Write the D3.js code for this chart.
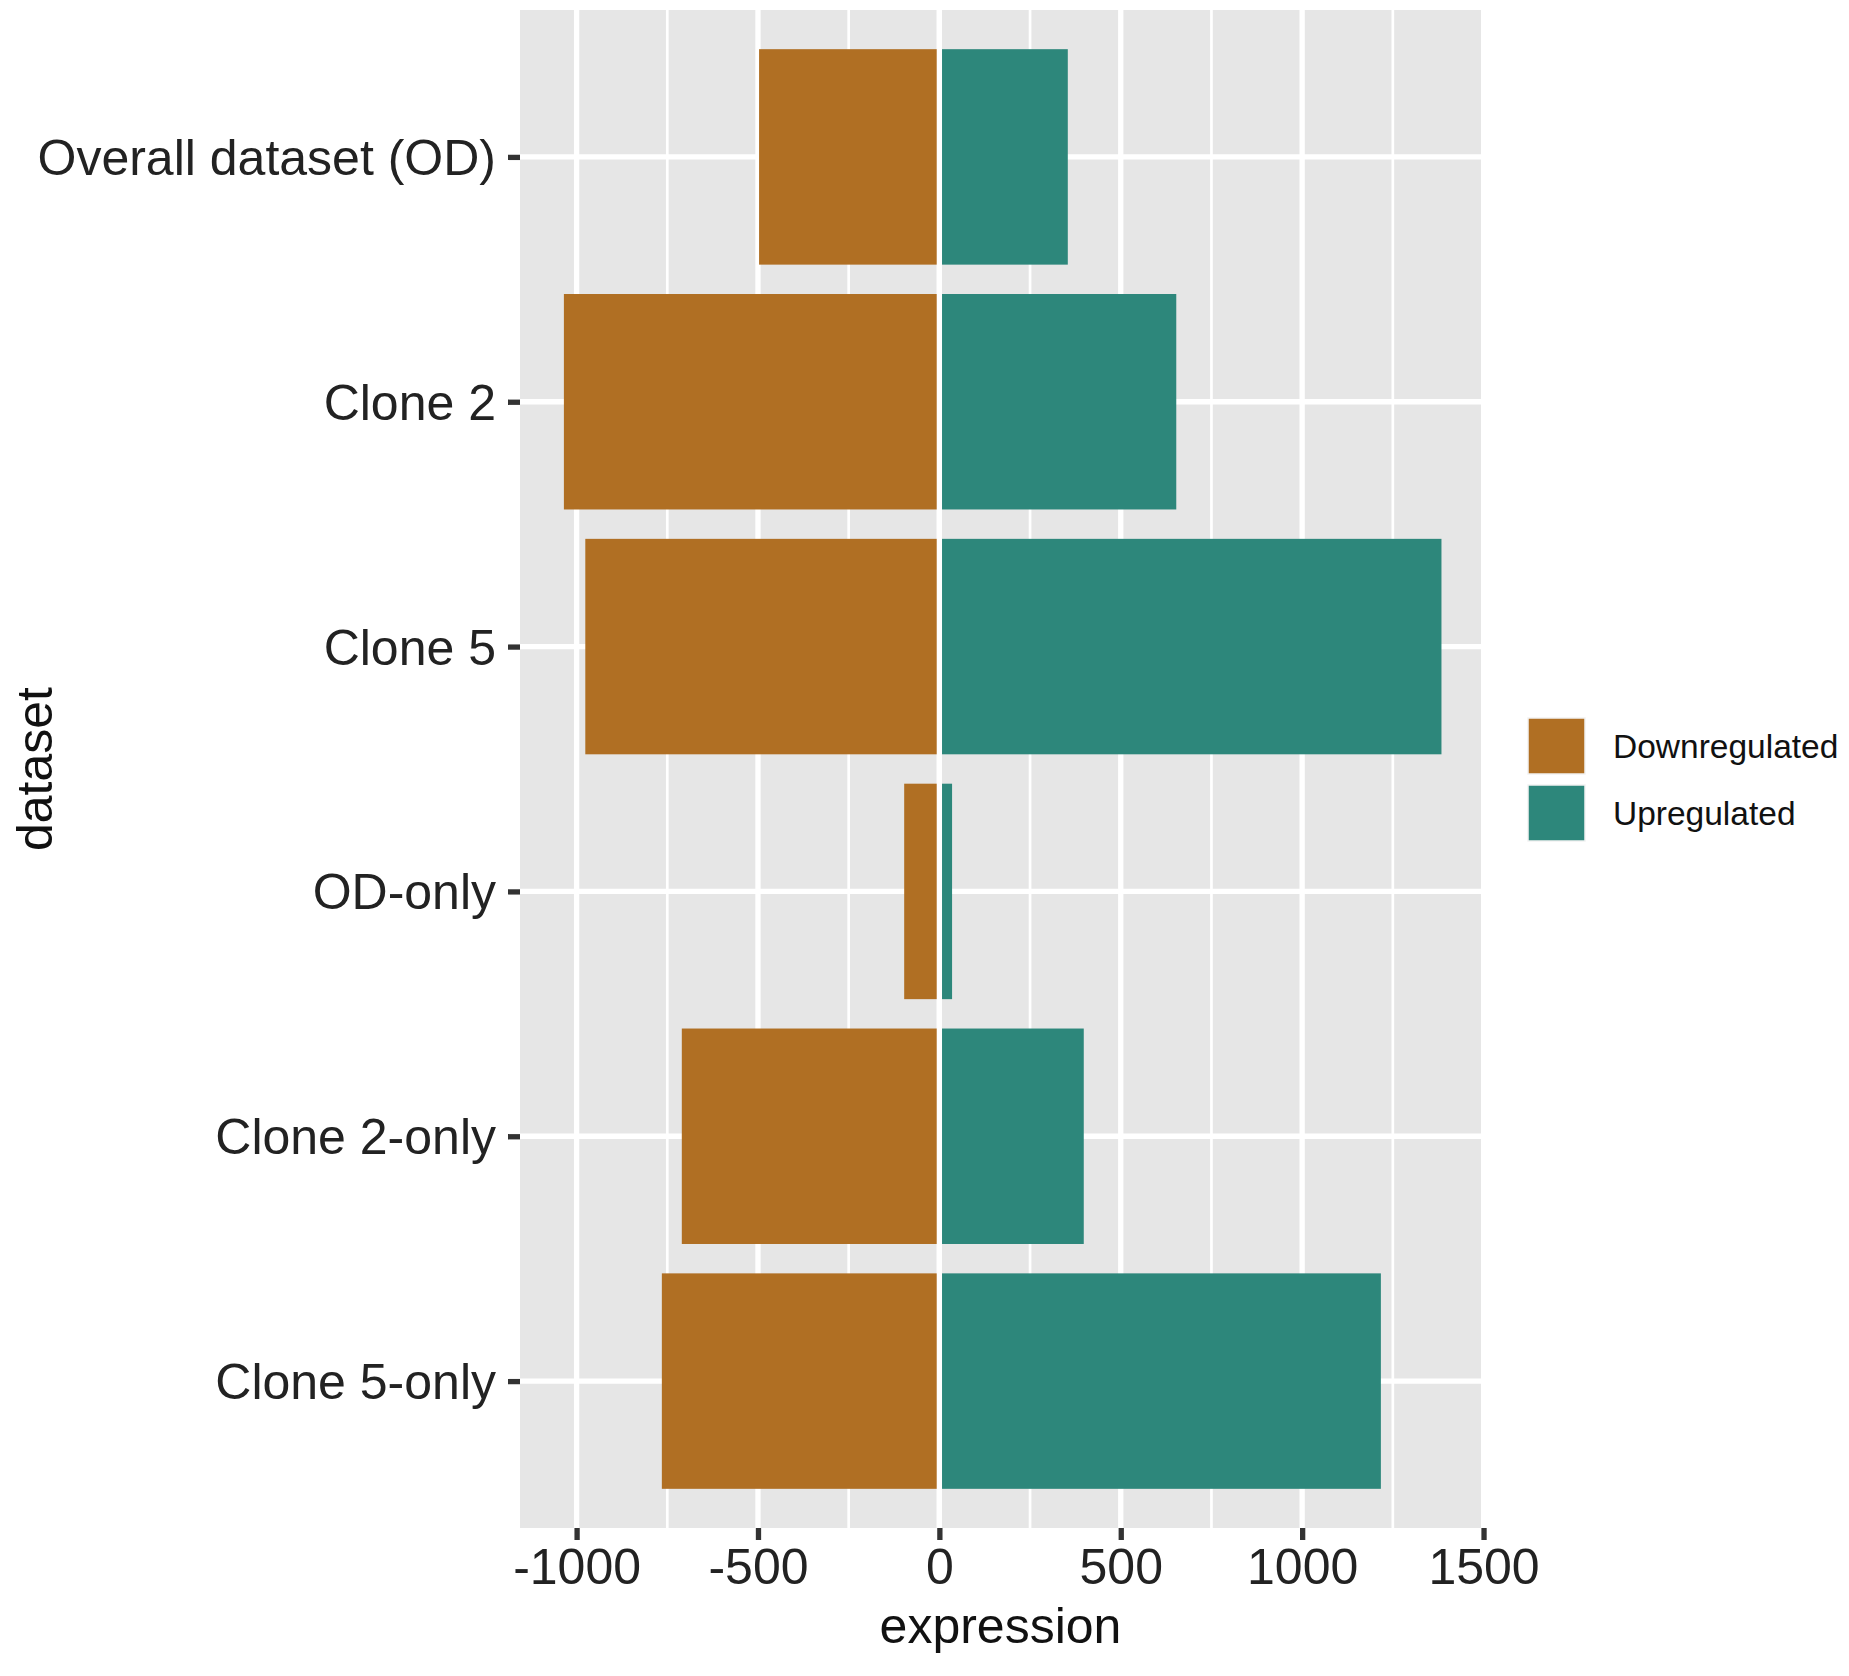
<!DOCTYPE html>
<html>
<head>
<meta charset="utf-8">
<script src="https://cdn.jsdelivr.net/npm/d3@7"></script>
<style>
  html, body { margin: 0; padding: 0; background: #ffffff; }
  svg { display: block; font-family: "Liberation Sans", Arial, sans-serif; }
</style>
</head>
<body>
<svg id="chart" width="1849" height="1676"></svg>
<script>
// ---- data ----
const categories = ["Overall dataset (OD)", "Clone 2", "Clone 5", "OD-only", "Clone 2-only", "Clone 5-only"];
const downregulated = [-497, -1035, -976, -97, -710, -765];
const upregulated = [354, 653, 1384, 35, 398, 1217];
const seriesNames = ["Downregulated", "Upregulated"];
const seriesColors = ["#B06F23", "#2D877B"];
const xMajorTicks = [-1000, -500, 0, 500, 1000, 1500];
const xTickLabels = ["-1000", "-500", "0", "500", "1000", "1500"];
const xMinorTicks = [-750, -250, 250, 750, 1250];
const xDomain = [-1156, 1493];
const xTitle = "expression";
const yTitle = "dataset";

// ---- layout ----
const svg = d3.select("#chart");
const panel = { left: 520, right: 1481, top: 10, bottom: 1528 };

const x = d3.scaleLinear().domain(xDomain).range([panel.left, panel.right]);
const y = d3.scalePoint().domain(categories).range([panel.top, panel.bottom]).padding(0.6);
const barH = y.step() * 0.88;

// panel background
svg.append("rect")
  .attr("x", panel.left).attr("y", panel.top)
  .attr("width", panel.right - panel.left).attr("height", panel.bottom - panel.top)
  .attr("fill", "#E6E6E6");

const inPanel = v => x(v) >= panel.left && x(v) <= panel.right;

// minor vertical gridlines
svg.append("g").selectAll("line").data(xMinorTicks.filter(inPanel)).join("line")
  .attr("x1", d => x(d)).attr("x2", d => x(d))
  .attr("y1", panel.top).attr("y2", panel.bottom)
  .attr("stroke", "#ffffff").attr("stroke-width", 2.7);

// major vertical gridlines
svg.append("g").selectAll("line").data(xMajorTicks.filter(inPanel)).join("line")
  .attr("x1", d => x(d)).attr("x2", d => x(d))
  .attr("y1", panel.top).attr("y2", panel.bottom)
  .attr("stroke", "#ffffff").attr("stroke-width", 5.3);

// horizontal gridlines
svg.append("g").selectAll("line").data(categories).join("line")
  .attr("x1", panel.left).attr("x2", panel.right)
  .attr("y1", d => y(d)).attr("y2", d => y(d))
  .attr("stroke", "#ffffff").attr("stroke-width", 5.3);

// bars
const rows = categories.map((c, i) => ({ cat: c, down: downregulated[i], up: upregulated[i] }));
const bars = svg.append("g");
bars.selectAll("rect.down").data(rows).join("rect")
  .attr("class", "down")
  .attr("x", d => x(d.down)).attr("width", d => x(0) - x(d.down))
  .attr("y", d => y(d.cat) - barH / 2).attr("height", barH)
  .attr("fill", seriesColors[0]);
bars.selectAll("rect.up").data(rows).join("rect")
  .attr("class", "up")
  .attr("x", x(0)).attr("width", d => x(d.up) - x(0))
  .attr("y", d => y(d.cat) - barH / 2).attr("height", barH)
  .attr("fill", seriesColors[1]);

// white zero line on top of bars
svg.append("line")
  .attr("x1", x(0)).attr("x2", x(0))
  .attr("y1", panel.top).attr("y2", panel.bottom)
  .attr("stroke", "#ffffff").attr("stroke-width", 5.3);

// x axis
const xAxis = svg.append("g").attr("transform", `translate(0,${panel.bottom})`)
  .call(d3.axisBottom(x).tickValues(xMajorTicks).tickSize(12).tickSizeOuter(0)
        .tickFormat((d, i) => xTickLabels[i]));
xAxis.select(".domain").remove();
xAxis.selectAll(".tick line").attr("stroke", "#333333").attr("stroke-width", 5.3);
xAxis.selectAll(".tick text")
  .attr("font-size", 50).attr("fill", "#222222")
  .attr("font-family", "'Liberation Sans', Arial, sans-serif")
  .attr("dy", null).attr("y", 56);

// y axis
const yAxis = svg.append("g").attr("transform", `translate(${panel.left},0)`)
  .call(d3.axisLeft(y).tickSize(12).tickSizeOuter(0).tickPadding(12));
yAxis.select(".domain").remove();
yAxis.selectAll(".tick line").attr("stroke", "#333333").attr("stroke-width", 5.3);
yAxis.selectAll(".tick text")
  .attr("font-size", 50).attr("fill", "#222222")
  .attr("font-family", "'Liberation Sans', Arial, sans-serif")
  .attr("dy", "0.35em");

// axis titles
svg.append("text")
  .attr("x", (panel.left + panel.right) / 2).attr("y", 1643)
  .attr("text-anchor", "middle").attr("font-size", 50).attr("fill", "#111111")
  .text(xTitle);
svg.append("text")
  .attr("transform", `translate(52,${(panel.top + panel.bottom) / 2}) rotate(-90)`)
  .attr("text-anchor", "middle").attr("font-size", 50).attr("fill", "#111111")
  .text(yTitle);

// legend
const legend = svg.append("g").attr("transform", "translate(1528,718)");
const keyW = 57, keyH = 56, keyStep = 67;
seriesNames.forEach((name, i) => {
  const g = legend.append("g").attr("transform", `translate(0,${i * keyStep})`);
  g.append("rect").attr("width", keyW).attr("height", keyH)
    .attr("fill", seriesColors[i]).attr("stroke", "#f2f2f2").attr("stroke-width", 1.5);
  g.append("text").attr("x", 85).attr("y", keyH / 2).attr("dy", "0.35em")
    .attr("font-size", 33.5).attr("fill", "#111111").text(name);
});
</script>
</body>
</html>
